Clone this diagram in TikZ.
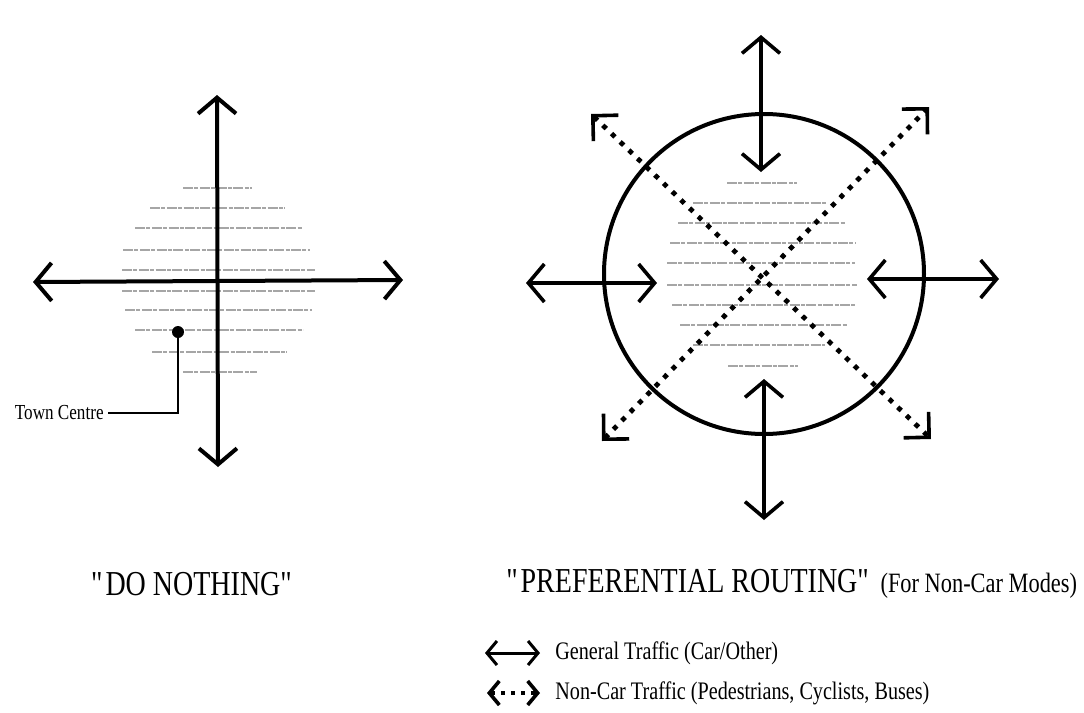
\documentclass[tikz,border=0pt]{standalone}
\usepackage{fontspec}
\setmainfont{Liberation Serif}[FakeStretch=0.8]
\usepackage{tikz}
\usetikzlibrary{positioning,arrows.meta,calc}

\tikzset{
  bigtip/.tip={Straight Barb[length=8pt,width=19pt]},
  cornertip/.tip={Straight Barb[length=9pt,width=18pt,line width=1.8pt]},
  smalltip/.tip={Straight Barb[length=5pt,width=12pt]},
}

\begin{document}
\begin{tikzpicture}[
      x=0.5pt, y=-0.5pt,
      mainroad/.style={line width=2pt, bigtip-bigtip},
      traffic/.style={line width=1.8pt, bigtip-bigtip},
      noncar/.style={line width=2.4pt, dash pattern=on 2.4pt off 3.6pt, cornertip-cornertip},
      keyroad/.style={line width=1.5pt, smalltip-smalltip},
      keynoncar/.style={line width=1.8pt, dash pattern=on 1.8pt off 3.2pt, smalltip-smalltip},
      hatch/.style={gray!70, line width=0.8pt, dash pattern=on 5pt off 0.7pt on 2pt off 0.7pt},
      ring/.style={circle, draw=black, line width=2pt, minimum size=160pt, inner sep=0pt},
      centredot/.style={circle, fill=black, minimum size=6pt, inner sep=0pt},
      title/.style={font=\fontsize{17.5}{20}\selectfont, inner sep=0pt},
      subtitle/.style={font=\fontsize{14}{16}\selectfont, inner sep=0pt},
      keytext/.style={font=\fontsize{12.6}{15}\selectfont, inner sep=0pt},
      note/.style={font=\fontsize{10.7}{13}\selectfont, inner sep=2pt},
    ]
    \useasboundingbox (0,0) rectangle (1084,713);

    % Town area shading (left)
    \foreach \y/\a/\b in {188/183/252, 208/150/285, 228/135/302, 250/123/310, 270/122/315,
                          291/122/315, 310/125/312, 330/135/303, 352/152/287, 372/183/257} {
      \draw[hatch] (\a,\y) -- (\b,\y);
    }
    % Town area shading (right)
    \foreach \y/\a/\b in {183/727/797, 203/693/827, 223/678/845, 243/670/855, 263/667/855,
                          285/667/857, 305/672/855, 325/680/847, 345/693/825, 366/728/798} {
      \draw[hatch] (\a,\y) -- (\b,\y);
    }

    % Do nothing
    \coordinate (lN) at (217,95);
    \coordinate (lS) at (218,467);
    \coordinate (lW) at (33,282);
    \coordinate (lE) at (403,280);
    \draw[mainroad] (lN) -- (lS);
    \draw[mainroad] (lW) -- (lE);

    \node[centredot] (tcdot) at (178,332) {};
    \node[note, anchor=east] (tc) at (108,413) {Town Centre};
    \draw[line width=0.6pt] (tcdot) |- (tc.east);

    \node[title] (dntitle) at (193,584) {\textquotedbl DO NOTHING\textquotedbl};

    % Preferential routing
    \node[ring] (zone) at (764,274) {};

    \coordinate (rNa) at (761,35);
    \coordinate (rNb) at (761,172);
    \coordinate (rSa) at (764,379);
    \coordinate (rSb) at (764,520);
    \coordinate (rWa) at (526,283);
    \coordinate (rWb) at (657,283);
    \coordinate (rEa) at (867,279);
    \coordinate (rEb) at (999,279);
    \draw[traffic] (rNa) -- (rNb);
    \draw[traffic] (rSa) -- (rSb);
    \draw[traffic] (rWa) -- (rWb);
    \draw[traffic] (rEa) -- (rEb);

    \coordinate (dNW) at (591,114);
    \coordinate (dSE) at (931,439);
    \coordinate (dNE) at (929,107);
    \coordinate (dSW) at (602,441);
    \draw[noncar] (dNW) -- (dSE);
    \draw[noncar] (dSW) -- (dNE);

    \node[title, anchor=base west] (prtitle) at (506,592) {\textquotedbl PREFERENTIAL ROUTING\textquotedbl};
    \node[subtitle, anchor=base west] (prsub) at ($(prtitle.base east)+(8,0)$) {(For Non-Car Modes)};

    % Key
    \coordinate (gA) at (485,653);
    \coordinate (gB) at (540,653);
    \coordinate (nA) at (487,693);
    \coordinate (nB) at (540,693);
    \draw[keyroad] (gA) -- (gB);
    \draw[keynoncar] (nA) -- (nB);
    \node[keytext, right=7.5pt of gB] (gtext) {General Traffic (Car/Other)};
    \node[keytext, right=7.5pt of nB] (ntext) {Non-Car Traffic (Pedestrians, Cyclists, Buses)};
  \end{tikzpicture}
\end{document}
